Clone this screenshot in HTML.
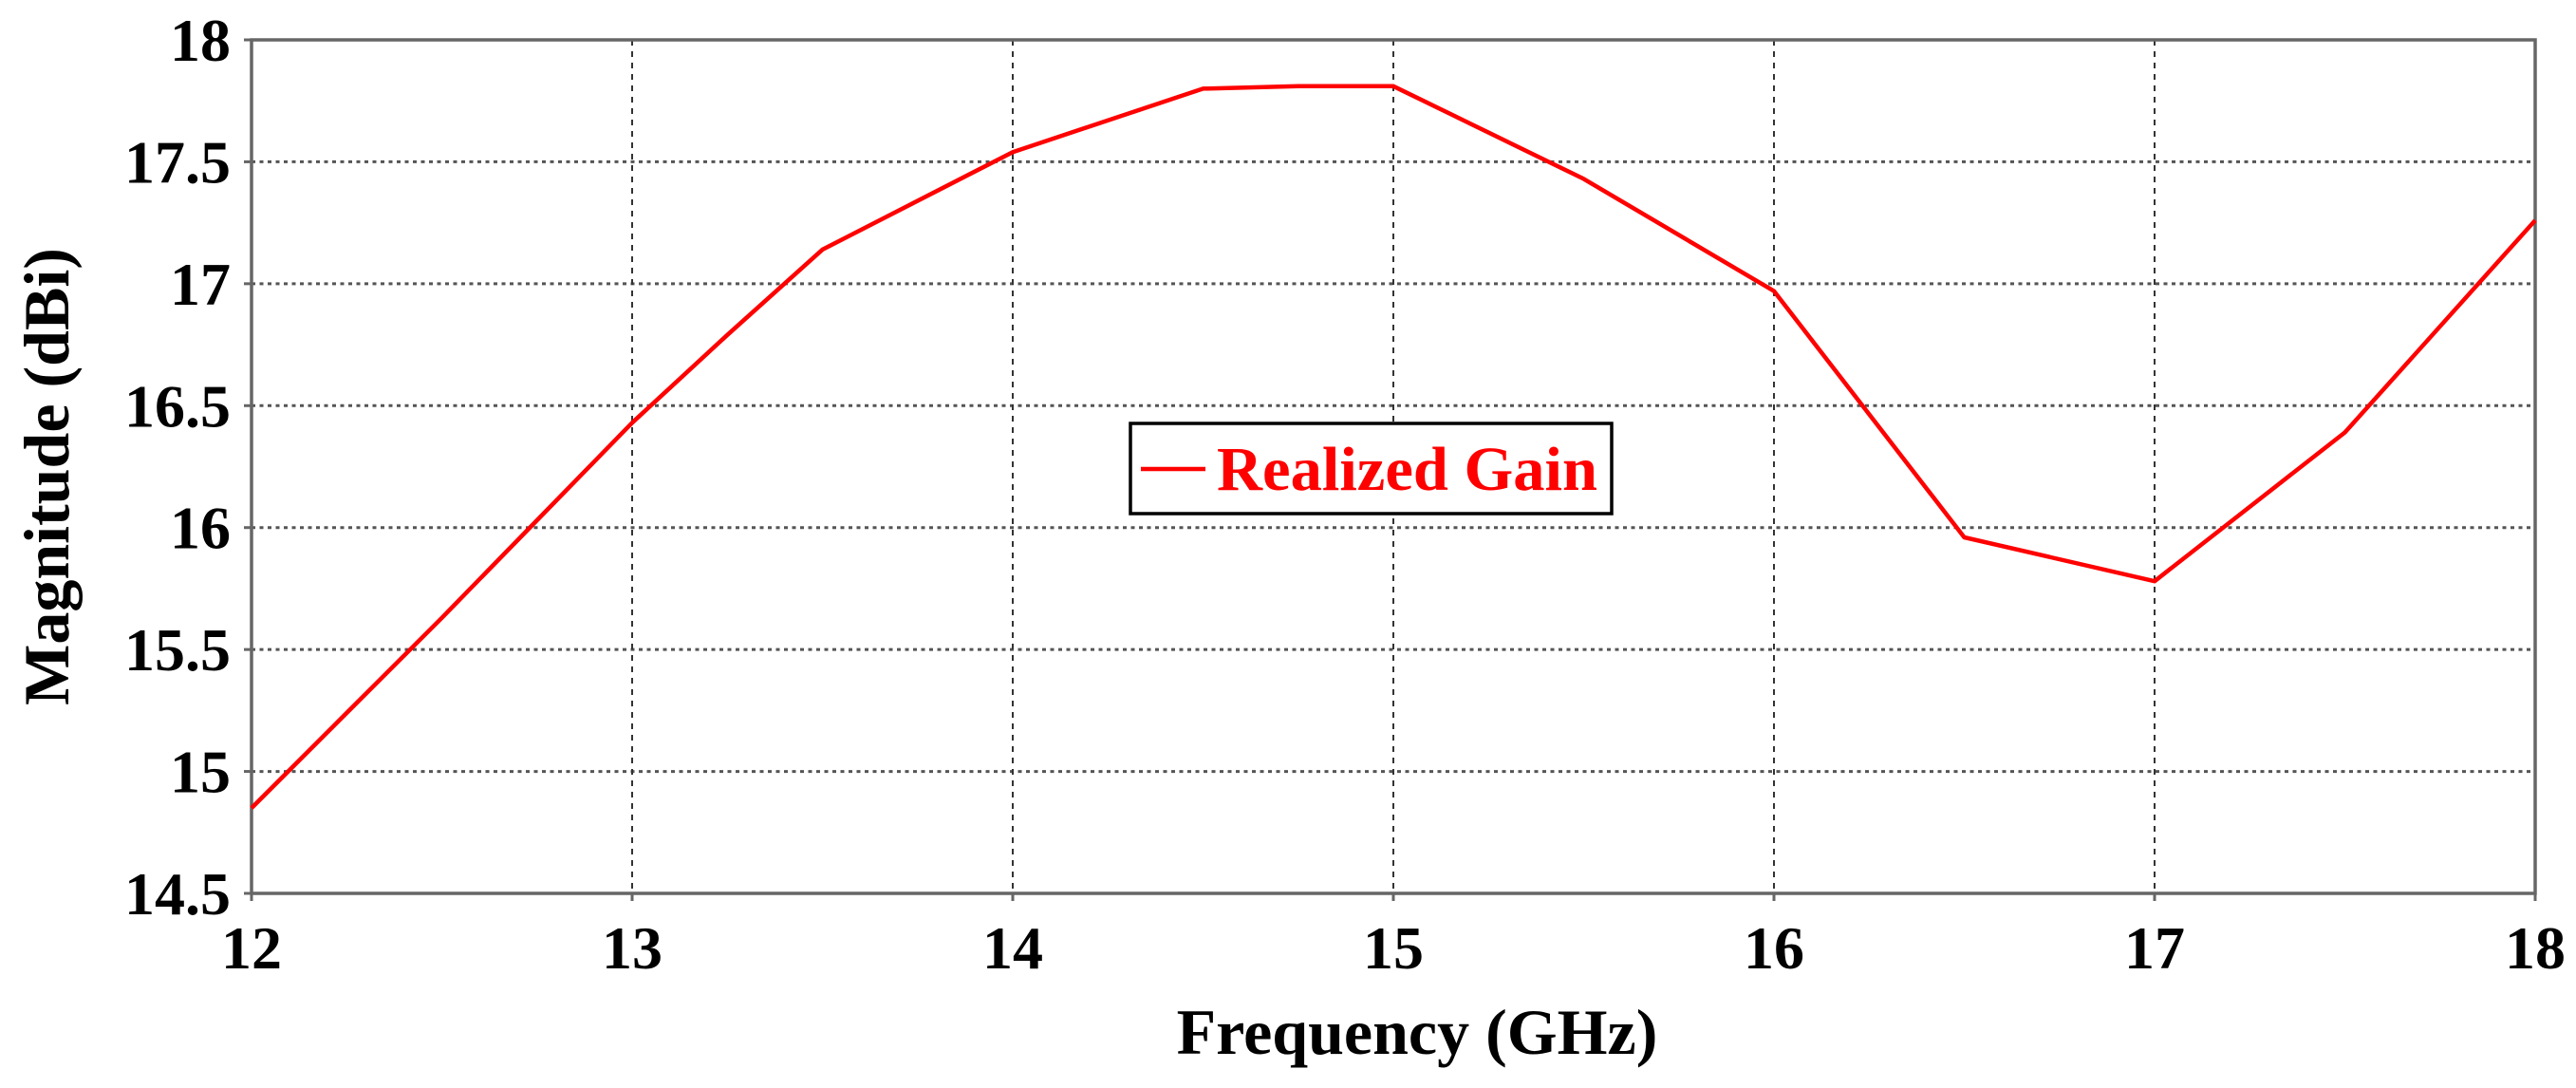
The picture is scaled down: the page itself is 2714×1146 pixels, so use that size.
<!DOCTYPE html>
<html><head><meta charset="utf-8"><style>
html,body{margin:0;padding:0;background:#fff;}
svg{display:block;}
text{font-family:"Liberation Serif","Times New Roman",serif;font-weight:bold;}
</style></head><body>
<svg id="chart" width="2714" height="1146" viewBox="0 0 2714 1146" xmlns="http://www.w3.org/2000/svg">
<g id="grid"></g>
<g id="axes"></g>
<g id="series"></g>
<g>
<rect x="1191" y="446" width="507" height="95" fill="#fff" stroke="#000" stroke-width="3.5"/>
<line x1="1202" y1="494" x2="1270" y2="494" stroke="#ff0000" stroke-width="4.5"/>
<text x="1282" y="516" font-size="66" fill="#ff0000" textLength="401" lengthAdjust="spacingAndGlyphs">Realized Gain</text>
</g>
<text x="1493" y="1110" font-size="68" text-anchor="middle" fill="#000">Frequency (GHz)</text>
<text transform="translate(72,502) rotate(-90)" font-size="68" text-anchor="middle" fill="#000">Magnitude (dBi)</text>
</svg>
<script>
const freqs = [12, 12.25, 12.5, 12.75, 13, 13.25, 13.5, 14, 14.5, 14.75, 15, 15.5, 16, 16.5, 17, 17.5, 18];
const gains = [14.85, 15.24, 15.63, 16.03, 16.43, 16.79, 17.14, 17.54, 17.80, 17.81, 17.81, 17.43, 16.97, 15.96, 15.78, 16.39, 17.26];
const xTicks = [12, 13, 14, 15, 16, 17, 18];
const xTickLabels = ["12", "13", "14", "15", "16", "17", "18"];
const yTicks = [14.5, 15, 15.5, 16, 16.5, 17, 17.5, 18];
const yTickLabels = ["14.5", "15", "15.5", "16", "16.5", "17", "17.5", "18"];

const L = 265, R = 2671, T = 42, B = 941;
const xMin = 12, xMax = 18, yMin = 14.5, yMax = 18;
function xs(v){ return L + (v - xMin) / (xMax - xMin) * (R - L); }
function ys(v){ return B - (v - yMin) / (yMax - yMin) * (B - T); }
const NS = "http://www.w3.org/2000/svg";
function mk(tag, attrs, parent){
  const el = document.createElementNS(NS, tag);
  for (const k in attrs) el.setAttribute(k, attrs[k]);
  parent.appendChild(el);
  return el;
}
const grid = document.getElementById('grid');
const axes = document.getElementById('axes');
const series = document.getElementById('series');

yTicks.forEach((v, i) => {
  const y = ys(v);
  if (v > yMin && v < yMax) {
    const g = mk('line', {x1: L, y1: y, x2: R, y2: y, stroke: '#555', 'stroke-width': 3, 'stroke-dasharray': '4 4.5'}, grid);
    
    
  }
  const t = mk('line', {x1: L - 8, y1: y, x2: L, y2: y, stroke: '#666', 'stroke-width': 3}, axes);
  
  
  const lb = mk('text', {x: 243, y: y + 22, 'font-size': 64, 'text-anchor': 'end', fill: '#000'}, axes);
  lb.textContent = yTickLabels[i];
  
  
});
xTicks.forEach((v, i) => {
  const x = xs(v);
  if (v > xMin && v < xMax) {
    const g = mk('line', {x1: x, y1: T, x2: x, y2: B, stroke: '#333', 'stroke-width': 2, 'stroke-dasharray': '6 6'}, grid);
    
    
  }
  const t = mk('line', {x1: x, y1: B, x2: x, y2: B + 8, stroke: '#666', 'stroke-width': 3}, axes);
  
  
  const lb = mk('text', {x: x, y: 1020, 'font-size': 64, 'text-anchor': 'middle', fill: '#000'}, axes);
  lb.textContent = xTickLabels[i];
  
  
});
const frame = mk('rect', {x: L, y: T, width: R - L, height: B - T, fill: 'none', stroke: '#666', 'stroke-width': 3.5}, axes);



const pts = freqs.map((f, i) => xs(f).toFixed(1) + ',' + ys(gains[i]).toFixed(1)).join(' ');
const line = mk('polyline', {points: pts, fill: 'none', stroke: '#ff0000', 'stroke-width': 4.5, 'stroke-linejoin': 'round'}, series);


</script>
</body></html>
